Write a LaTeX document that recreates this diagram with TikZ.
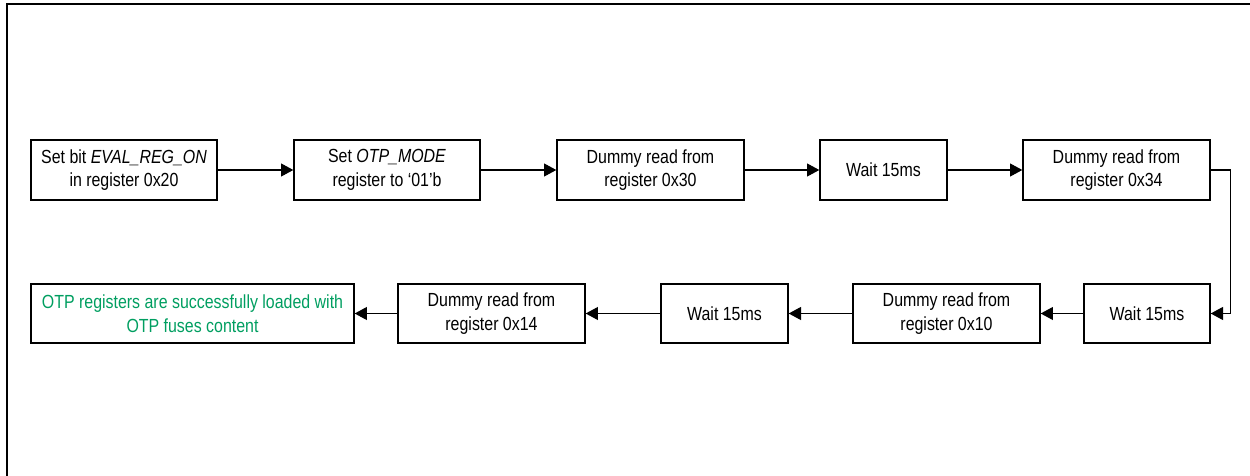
\documentclass[tikz,border=0pt]{standalone}
\usepackage{fontspec}
\setmainfont{Liberation Sans}[FakeStretch=0.84]
\usetikzlibrary{arrows.meta}
\definecolor{okgreen}{RGB}{0,158,96}
\begin{document}
\begin{tikzpicture}[x=0.02cm,y=-0.02cm,
  box/.style={draw, line width=0.8pt, inner sep=0pt, align=center,
    minimum height=1.2cm, font=\fontsize{10.8pt}{13.4pt}\selectfont},
  arr/.style={line width=0.6pt, -{Triangle[length=7pt,width=7.4pt]}},
  frame/.style={line width=1.6pt}]
\useasboundingbox (0,0) rectangle (1250,476);
\draw[frame] (7,490) -- (7,4) -- (1260,4);
% top row
\node[box, minimum width=3.72cm] (b1) at (124,170) {Set bit \textit{EVAL\_REG\_ON}\\in register 0x20};
\node[box, minimum width=3.72cm] (b2) at (387,170) {Set \textit{OTP\_MODE}\\register to ‘01’b};
\node[box, minimum width=3.74cm] (b3) at (650.5,170) {Dummy read from\\register 0x30};
\node[box, minimum width=2.54cm] (b4) at (883.5,170) {Wait 15ms};
\node[box, minimum width=3.74cm] (b5) at (1116.5,170) {Dummy read from\\register 0x34};
% bottom row
\node[box, minimum width=2.52cm, minimum height=1.18cm] (b6) at (1147,313.5) {Wait 15ms};
\node[box, minimum width=3.74cm, minimum height=1.18cm] (b7) at (946.5,313.5) {Dummy read from\\register 0x10};
\node[box, minimum width=2.54cm, minimum height=1.18cm] (b8) at (724.5,313.5) {Wait 15ms};
\node[box, minimum width=3.74cm, minimum height=1.18cm] (b9) at (491.5,313.5) {Dummy read from\\register 0x14};
\node[box, minimum width=6.46cm, minimum height=1.18cm, text=okgreen] (b10) at (192.5,313.5) {OTP registers are successfully loaded with\\OTP fuses content};
% connectors
\draw[arr] (b1) -- (b2);
\draw[arr] (b2) -- (b3);
\draw[arr] (b3) -- (b4);
\draw[arr] (b4) -- (b5);
\draw[arr] (b5.east) -- ++(20,0) |- (b6.east);
\draw[arr] (b6) -- (b7);
\draw[arr] (b7) -- (b8);
\draw[arr] (b8) -- (b9);
\draw[arr] (b9) -- (b10);
\end{tikzpicture}
\end{document}
